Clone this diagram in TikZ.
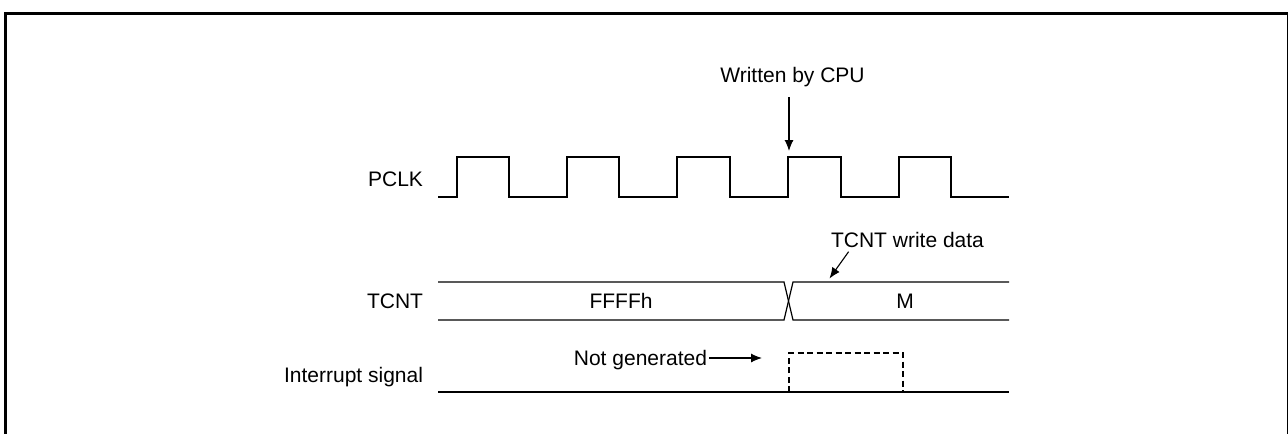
\documentclass[tikz,border=0pt]{standalone}
\usepackage{fontspec}
\setmainfont{Liberation Sans}
\usetikzlibrary{arrows.meta}
\begin{document}
\begin{tikzpicture}[x=1pt,y=-1pt,
  lbl/.style={font=\fontsize{21}{25}\selectfont,inner sep=0pt,outer sep=0pt},
  sig/.style={line width=1.2pt,line join=miter},
  arr/.style={line width=1.1pt,-{Latex[length=11pt,width=9pt]}},
  dsh/.style={line width=1.5pt,dash pattern=on 6pt off 3.5pt}]
\useasboundingbox (0,0) rectangle (1288,434);
% frame
\draw[line width=3pt] (4,13.5) -- (1288,13.5);
\draw[line width=2.7pt] (5.3,12) -- (5.3,434);
\draw[line width=1.5pt] (1287.3,13) -- (1287.3,434);
% labels
\node[lbl,anchor=base east] (pclk) at (423,186.5) {PCLK};
\node[lbl,anchor=base east] (tcnt) at (423,308) {TCNT};
\node[lbl,anchor=base east] (intr) at (423,382) {Interrupt signal};
% PCLK waveform
\draw[sig] (438,197) -- (457,197) -- (457,157) -- (509,157) -- (509,197)
  -- (567,197) -- (567,157) -- (619,157) -- (619,197)
  -- (677,197) -- (677,157) -- (730,157) -- (730,197)
  -- (788,197) -- (788,157) -- (841,157) -- (841,197)
  -- (899,197) -- (899,157) -- (951,157) -- (951,197) -- (1009,197);
% TCNT bus
\draw[sig] (438,282) -- (784,282) -- (793,320) -- (1009,320);
\draw[sig] (438,320) -- (784,320) -- (793,282) -- (1009,282);
\node[lbl,anchor=base] (ffff) at (621,308.5) {FFFFh};
\node[lbl,anchor=base] (m) at (905,308.5) {M};
% Interrupt
\draw[sig] (438,392) -- (1009,392);
\draw[dsh] (789,392) -- (789,353) -- (903,353) -- (903,392);
% annotations
\node[lbl,anchor=base] (wcpu) at (792.5,82) {Written by CPU};
\coordinate (wtip) at (789,151);
\coordinate (wstart) at (789,97);
\draw[arr] (wstart) -- (wtip);
\node[lbl,anchor=base] (twd) at (907.5,247) {TCNT write data};
\coordinate (tstart) at (848.6,251.7);
\coordinate (ttip) at (829.5,278.5);
\draw[arr] (tstart) -- (ttip);
\node[lbl,anchor=base east] (ng) at (707,365) {Not generated};
\coordinate (ntip) at (762,358);
\draw[arr] (ng.east |- ntip) ++(2,0) coordinate (nstart) (nstart) -- (ntip);
\end{tikzpicture}
\end{document}
